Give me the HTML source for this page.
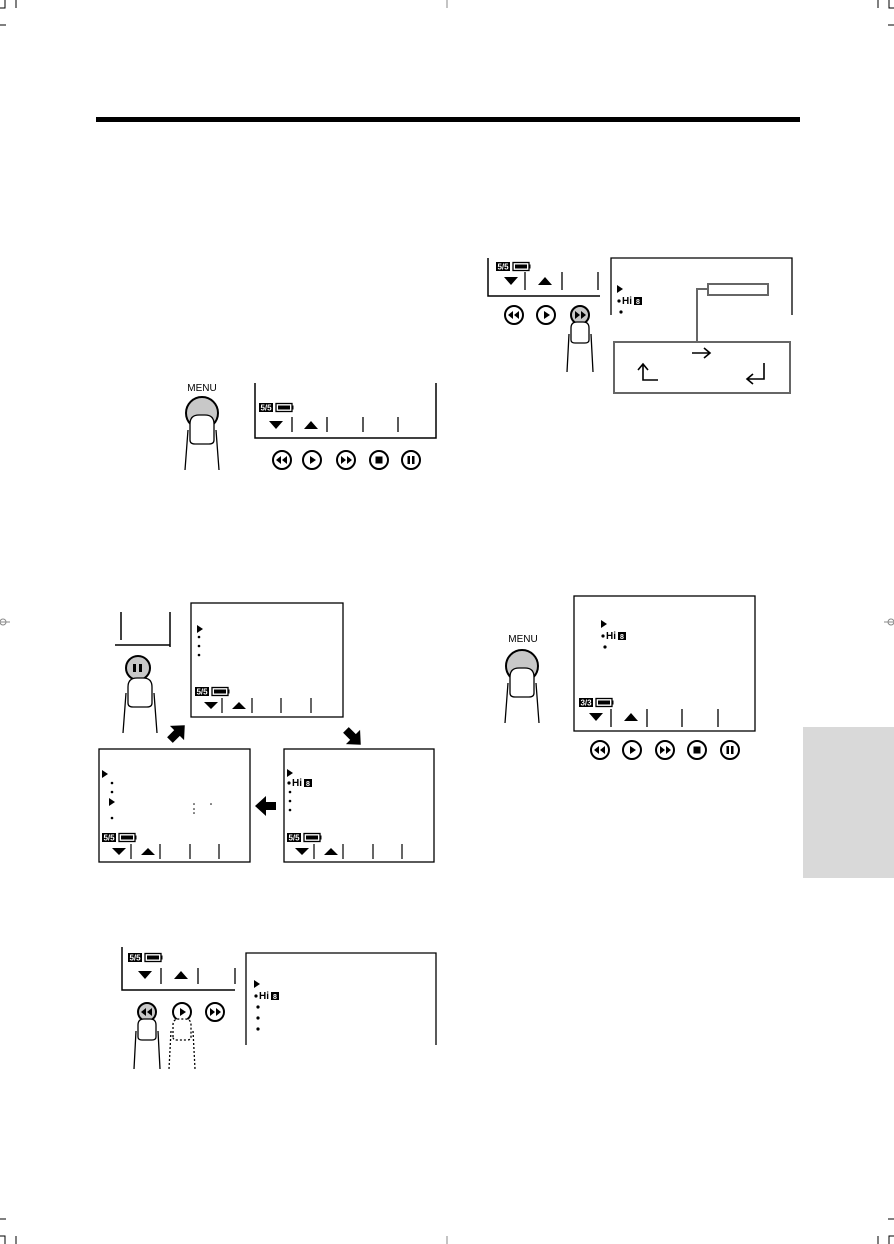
<!DOCTYPE html>
<html><head><meta charset="utf-8"><style>
html,body{margin:0;padding:0;background:#fff;}
svg{display:block;font-family:"Liberation Sans",sans-serif;}
</style></head><body>
<svg width="894" height="1244" viewBox="0 0 894 1244" xmlns="http://www.w3.org/2000/svg">
<defs>
<g id="fng">
 <path d="M-14,12 L-17,52 M14,12 L17,52" stroke="#000" stroke-width="1.3" fill="none"/>
 <path d="M-12,22 L-12,6 Q-12,-3 -3,-3 L3,-3 Q12,-3 12,6 L12,22 Q12,26 7,26 L-7,26 Q-12,26 -12,22 Z" fill="#fff" stroke="#000" stroke-width="1.3"/>
</g>
<g id="fngs">
 <path d="M-11,10 L-13,48 M11,10 L13,48" stroke="#000" stroke-width="1.3" fill="none"/>
 <path d="M-9,16 L-9,4 Q-9,-2 -3,-2 L3,-2 Q9,-2 9,4 L9,16 Q9,19 5,19 L-5,19 Q-9,19 -9,16 Z" fill="#fff" stroke="#000" stroke-width="1.3"/>
</g>
<g id="fngd">
 <path d="M-11,10 L-13,48 M11,10 L13,48" stroke="#000" stroke-width="1.3" fill="none" stroke-dasharray="2,2"/>
 <path d="M-9,16 L-9,4 Q-9,-2 -3,-2 L3,-2 Q9,-2 9,4 L9,16 Q9,19 5,19 L-5,19 Q-9,19 -9,16 Z" fill="#fff" stroke="#000" stroke-width="1.3" stroke-dasharray="2,2"/>
</g>
<g id="cnt"><rect x="0" y="0" width="14" height="9" fill="#000"/><text x="7" y="7.5" font-size="8" fill="#fff" text-anchor="middle" font-weight="bold">5/5</text><rect x="17" y="0.5" width="16" height="8" fill="#fff" stroke="#000" stroke-width="1.3"/><rect x="19" y="2.5" width="12" height="4" fill="#000"/><rect x="33" y="2.5" width="1.5" height="4" fill="#000"/></g>
<g id="bRew"><circle r="9" fill="#fff" stroke="#000" stroke-width="2"/><path d="M-1,-4 L-6,0 L-1,4Z M5,-4 L0,0 L5,4Z" fill="#000"/></g>
<g id="bPlay"><circle r="9" fill="#fff" stroke="#000" stroke-width="2"/><path d="M-2,-4 L4,0 L-2,4Z" fill="#000"/></g>
<g id="bFf"><circle r="9" fill="#fff" stroke="#000" stroke-width="2"/><path d="M1,-4 L6,0 L1,4Z M-5,-4 L0,0 L-5,4Z" fill="#000"/></g>
<g id="bStop"><circle r="9" fill="#fff" stroke="#000" stroke-width="2"/><rect x="-3.5" y="-3.5" width="7" height="7" fill="#000"/></g>
<g id="bPause"><circle r="9" fill="#fff" stroke="#000" stroke-width="2"/><rect x="-3.5" y="-4" width="2.5" height="8" fill="#000"/><rect x="1" y="-4" width="2.5" height="8" fill="#000"/></g>
<g id="hi8"><circle cx="0" cy="-3" r="1.6" fill="#000"/><text x="3" y="0" font-size="10" font-weight="bold">Hi</text><rect x="15" y="-7" width="8" height="8" fill="#000"/><text x="19" y="0" font-size="7" fill="#fff" text-anchor="middle" font-weight="bold">8</text></g>
<path id="tri" d="M0,0 L6,4 L0,8Z" fill="#000"/>
<path id="fat" d="M-10,-4 L0,-4 L0,-10 L11,0 L0,10 L0,4 L-10,4Z" fill="#000"/>
</defs>

<!-- crop marks -->
<g stroke="#000" stroke-width="1" fill="none">
<path d="M5,0 V8 H0 M16,0 V8 M0,25 H6"/>
<path d="M889,0 V8 H894 M878,0 V8 M894,25 H888"/>
<path d="M5,1244 V1236 H0 M16,1244 V1236 M0,1219 H6"/>
<path d="M889,1244 V1236 H894 M878,1244 V1236 M894,1219 H888"/>
<path d="M447,0 V8 M447,1236 V1244" stroke="#888"/>
<path d="M0,622 H10 M884,622 H894" stroke="#888"/>
</g>
<circle cx="3" cy="622" r="3" fill="none" stroke="#888"/>
<circle cx="891" cy="622" r="3" fill="none" stroke="#888"/>

<rect x="96" y="117" width="704" height="5" fill="#000"/>
<rect x="803" y="727" width="91" height="151" fill="#d9d9d9"/>

<!-- Screen 1 -->
<text x="202" y="391" font-size="10" text-anchor="middle">MENU</text>
<circle cx="202" cy="413" r="16" fill="#c8c8c8" stroke="#000" stroke-width="2"/>
<use href="#fng" x="202" y="418"/>
<path d="M255,383 V438 H436 V383" fill="none" stroke="#000" stroke-width="1.5"/>
<use href="#cnt" x="259" y="403"/>
<g stroke="#000" stroke-width="1.3"><path d="M292,417 V432 M327,417 V432 M363,417 V432 M398,417 V432"/></g>
<path d="M269,421 L283,421 L276,429Z M304,429 L318,429 L311,421Z" fill="#000"/>
<use href="#bRew" x="282" y="460"/><use href="#bPlay" x="312" y="460"/><use href="#bFf" x="346" y="460"/><use href="#bStop" x="379" y="460"/><use href="#bPause" x="411" y="460"/>

<!-- Top-right -->
<path d="M488,258 V296 H600" fill="none" stroke="#000" stroke-width="1.5"/>
<use href="#cnt" x="496" y="262"/>
<g stroke="#000" stroke-width="1.3"><path d="M525,272 V290 M562,272 V290 M598,272 V290"/></g>
<path d="M504,277 L518,277 L511,285Z M538,285 L552,285 L545,277Z" fill="#000"/>
<use href="#bRew" x="514" y="315"/><use href="#bPlay" x="546" y="315"/>
<circle cx="580" cy="315" r="9" fill="#c8c8c8" stroke="#000" stroke-width="2"/><path d="M581,311 L586,315 L581,319Z M575,311 L580,315 L575,319Z" fill="#000"/>
<use href="#fngs" x="580" y="324"/>
<path d="M611,315 V258 H792 V315" fill="none" stroke="#000" stroke-width="1.3"/>
<use href="#tri" x="617" y="285"/>
<use href="#hi8" x="619" y="304"/>
<circle cx="621" cy="312" r="1.6" fill="#000"/>
<rect x="708" y="284" width="60" height="11" fill="#fff" stroke="#666" stroke-width="2"/>
<path d="M708,289 H697 V342" fill="none" stroke="#666" stroke-width="2"/>
<rect x="614" y="342" width="176" height="51" fill="none" stroke="#666" stroke-width="2"/>
<path d="M692,353 H710 M704,348 L710,353 L704,358" fill="none" stroke="#000" stroke-width="1.6"/>
<path d="M643,365 V380 H658 M638,370 L643,364 L648,370" fill="none" stroke="#000" stroke-width="1.6"/>
<path d="M764,363 V379 H748 M753,374 L747,379 L753,384" fill="none" stroke="#000" stroke-width="1.6"/>

<!-- Middle-left cycle -->
<path d="M121,612 V640 M170,612 V647 M115,645 H170" fill="none" stroke="#000" stroke-width="1.5"/>
<circle cx="138" cy="668" r="12" fill="#c8c8c8" stroke="#000" stroke-width="2"/>
<rect x="133" y="664" width="3" height="8" fill="#000"/><rect x="139" y="664" width="3" height="8" fill="#000"/>
<use href="#fng" x="140" y="681"/>
<rect x="191" y="603" width="152" height="114" fill="none" stroke="#000" stroke-width="1.3"/>
<use href="#tri" x="197" y="625"/>
<g fill="#000"><circle cx="199" cy="637" r="1.3"/><circle cx="199" cy="646" r="1.3"/><circle cx="199" cy="655" r="1.3"/></g>
<use href="#cnt" x="195" y="687"/>
<g stroke="#000" stroke-width="1.2"><path d="M222,698 V713 M252,698 V713 M281,698 V713 M311,698 V713"/></g>
<path d="M204,702 L218,702 L211,709Z M232,709 L246,709 L239,702Z" fill="#000"/>
<use href="#fat" transform="translate(177,733) rotate(-45)"/>
<use href="#fat" transform="translate(353,737) rotate(45)"/>
<use href="#fat" transform="translate(266,806) rotate(180)"/>
<rect x="99" y="749" width="151" height="113" fill="none" stroke="#000" stroke-width="1.3"/>
<use href="#tri" x="102" y="770"/>
<g fill="#000"><circle cx="112" cy="783" r="1.3"/><circle cx="112" cy="792" r="1.3"/><circle cx="112" cy="818" r="1.3"/><circle cx="194" cy="804" r="0.8"/><circle cx="194" cy="809" r="0.8"/><circle cx="194" cy="813" r="0.8"/><circle cx="211" cy="804" r="0.8"/></g>
<use href="#tri" x="109" y="798"/>
<use href="#cnt" x="102" y="833"/>
<g stroke="#000" stroke-width="1.2"><path d="M131,844 V859 M160,844 V859 M190,844 V859 M219,844 V859"/></g>
<path d="M112,848 L126,848 L119,855Z M141,855 L155,855 L148,848Z" fill="#000"/>
<rect x="284" y="749" width="150" height="113" fill="none" stroke="#000" stroke-width="1.3"/>
<use href="#tri" x="287" y="769"/>
<use href="#hi8" x="289" y="786"/>
<g fill="#000"><circle cx="290" cy="792" r="1.3"/><circle cx="290" cy="801" r="1.3"/><circle cx="290" cy="810" r="1.3"/></g>
<use href="#cnt" x="287" y="833"/>
<g stroke="#000" stroke-width="1.2"><path d="M314,844 V859 M343,844 V859 M373,844 V859 M402,844 V859"/></g>
<path d="M295,848 L309,848 L302,855Z M324,855 L338,855 L331,848Z" fill="#000"/>

<!-- Right middle -->
<text x="523" y="642" font-size="10" text-anchor="middle">MENU</text>
<circle cx="522" cy="666" r="16" fill="#c8c8c8" stroke="#000" stroke-width="2"/>
<use href="#fng" x="522" y="671"/>
<rect x="574" y="596" width="181" height="135" fill="none" stroke="#000" stroke-width="1.3"/>
<use href="#tri" x="601" y="620"/>
<use href="#hi8" x="603" y="639"/>
<circle cx="605" cy="647" r="1.6" fill="#000"/>
<g transform="translate(579,698)"><rect x="0" y="0" width="14" height="9" fill="#000"/><text x="7" y="7.5" font-size="8" fill="#fff" text-anchor="middle" font-weight="bold">3/3</text><rect x="17" y="0.5" width="16" height="8" fill="#fff" stroke="#000" stroke-width="1.3"/><rect x="19" y="2.5" width="12" height="4" fill="#000"/><rect x="33" y="2.5" width="1.5" height="4" fill="#000"/></g>
<g stroke="#000" stroke-width="1.3"><path d="M611,709 V727 M647,709 V727 M682,709 V727 M718,709 V727"/></g>
<path d="M589,713 L603,713 L596,721Z M624,721 L638,721 L631,713Z" fill="#000"/>
<use href="#bRew" x="600" y="750"/><use href="#bPlay" x="632" y="750"/><use href="#bFf" x="665" y="750"/><use href="#bStop" x="697" y="750"/><use href="#bPause" x="730" y="750"/>

<!-- Bottom-left -->
<path d="M122,947 V990 H235" fill="none" stroke="#000" stroke-width="1.5"/>
<use href="#cnt" x="128" y="953"/>
<g stroke="#000" stroke-width="1.3"><path d="M161,968 V984 M198,968 V984 M235,968 V984"/></g>
<path d="M138,971 L152,971 L145,979Z M174,979 L188,979 L181,971Z" fill="#000"/>
<circle cx="147" cy="1012" r="9" fill="#c8c8c8" stroke="#000" stroke-width="2"/><path d="M146,1008 L141,1012 L146,1016Z M152,1008 L147,1012 L152,1016Z" fill="#000"/>
<use href="#fngs" x="147" y="1021"/>
<use href="#bPlay" x="182" y="1012"/>
<use href="#fngd" x="182" y="1021"/>
<use href="#bFf" x="215" y="1012"/>
<path d="M246,1045 V953 H436 V1045" fill="none" stroke="#000" stroke-width="1.3"/>
<use href="#tri" x="254" y="980"/>
<use href="#hi8" x="256" y="999"/>
<g fill="#000"><circle cx="258" cy="1007" r="1.6"/><circle cx="258" cy="1018" r="1.6"/><circle cx="258" cy="1029" r="1.6"/></g>
</svg>
</body></html>
